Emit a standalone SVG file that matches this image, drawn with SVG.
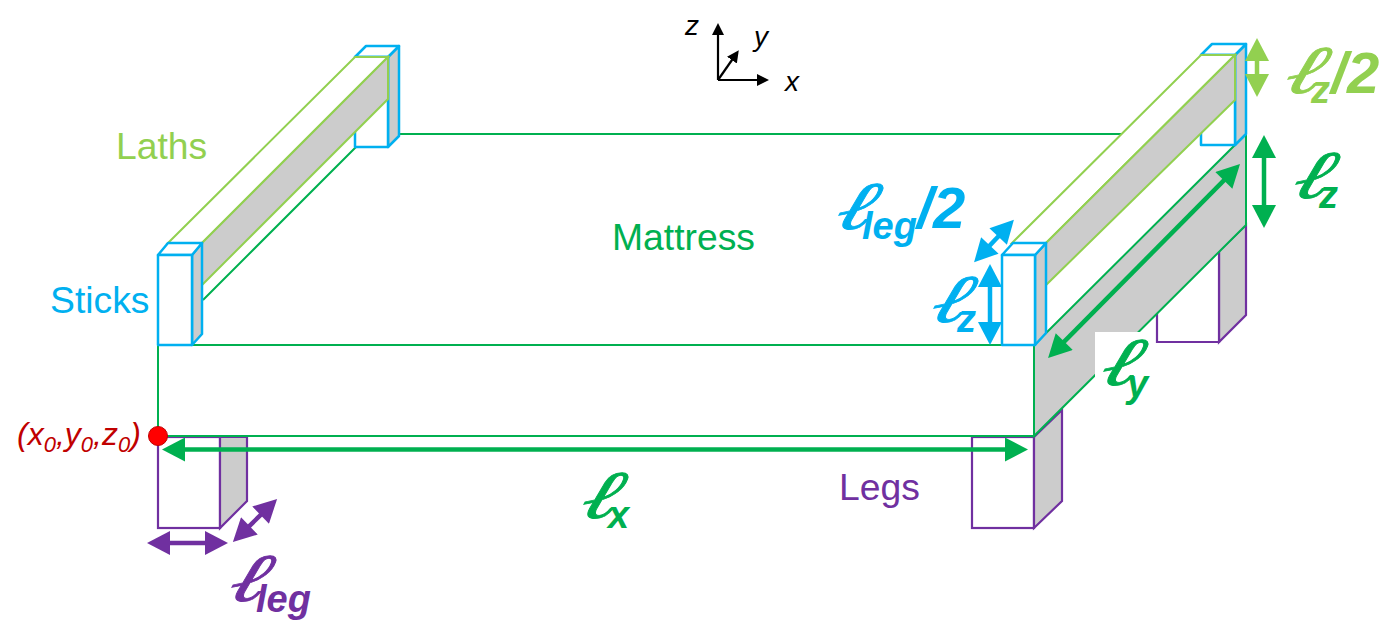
<svg xmlns="http://www.w3.org/2000/svg" width="1395" height="630" viewBox="0 0 1395 630">
<style>
.s{font-family:"Liberation Sans",Arial,sans-serif}
.lab{font-size:37.300px}
.sym{font-family:"Liberation Serif","DejaVu Serif",serif;font-style:italic;font-weight:normal;font-size:68px;stroke-width:.8px}
.it{font-family:"Liberation Sans",Arial,sans-serif;font-style:italic;font-weight:bold;font-size:38px}
.fr{font-family:"Liberation Sans",Arial,sans-serif;font-style:italic;font-weight:bold;font-size:58px}
.ax{font-family:"Liberation Sans",Arial,sans-serif;font-style:italic;font-size:28px;fill:#000}
.cg{fill:#00b050;stroke:#00b050}
.cl{fill:#92d050;stroke:#92d050}
.cb{fill:#00b0f0;stroke:#00b0f0}
.cp{fill:#7030a0;stroke:#7030a0}
.tg{fill:#00b050}
.tl{fill:#92d050}
.tb{fill:#00b0f0}
.tp{fill:#7030a0}
.gray{fill:#cccccc}
.wh{fill:#fff}
.m{stroke:#00b050;stroke-width:2;fill:none}
.mf{stroke:#00b050;stroke-width:2}
.lf{stroke:#92d050;stroke-width:2}
.t{stroke:#00b0f0;stroke-width:2.500;stroke-linejoin:round}
.g{stroke:#7030a0;stroke-width:2.200}
.ag{stroke:#00b050;stroke-width:4.500;fill:none;marker-start:url(#hg);marker-end:url(#hg)}
.al{stroke:#92d050;stroke-width:4.500;fill:none;marker-start:url(#hl);marker-end:url(#hl)}
.ab{stroke:#00b0f0;stroke-width:4.500;fill:none;marker-start:url(#hb);marker-end:url(#hb)}
.ap{stroke:#7030a0;stroke-width:4.500;fill:none;marker-start:url(#hp);marker-end:url(#hp)}
.ak{stroke:#000;stroke-width:2.200;fill:none;marker-end:url(#hk)}
</style>
<defs>
<marker id="hg" markerUnits="userSpaceOnUse" markerWidth="24" markerHeight="24" viewBox="0 0 23 24" refX="17" refY="12" orient="auto-start-reverse"><path d="M0 0L23 12L0 24Z" fill="#00b050"/></marker>
<marker id="hl" markerUnits="userSpaceOnUse" markerWidth="24" markerHeight="24" viewBox="0 0 23 24" refX="17" refY="12" orient="auto-start-reverse"><path d="M0 0L23 12L0 24Z" fill="#92d050"/></marker>
<marker id="hb" markerUnits="userSpaceOnUse" markerWidth="24" markerHeight="24" viewBox="0 0 23 24" refX="17" refY="12" orient="auto-start-reverse"><path d="M0 0L23 12L0 24Z" fill="#00b0f0"/></marker>
<marker id="hp" markerUnits="userSpaceOnUse" markerWidth="24" markerHeight="24" viewBox="0 0 23 24" refX="17" refY="12" orient="auto-start-reverse"><path d="M0 0L23 12L0 24Z" fill="#7030a0"/></marker>
<marker id="hk" markerUnits="userSpaceOnUse" markerWidth="12" markerHeight="12" viewBox="0 0 12 12" refX="8" refY="6" orient="auto"><path d="M0 0L12 6L0 12Z" fill="#000"/></marker>
</defs>
<rect width="1395" height="630" fill="#fff"/>

<g id="leg-back-right">
<path class="g gray" d="M1219 251L1246 225V315L1219 342Z"/>
<path class="g" fill="#fff" d="M1157 313V342H1219V251"/>
</g>
<g id="leg-front-left">
<rect class="g wh" x="158" y="437" width="62" height="91"/>
<path class="g gray" d="M220 437H247V501L220 528Z"/>
</g>
<g id="leg-front-right">
<rect class="g wh" x="972" y="437" width="62" height="91"/>
<path class="g gray" d="M1034 437L1062 410V501L1034 528Z"/>
</g>

<g id="mattress">
<rect class="mf wh" x="158" y="345" width="876" height="91"/>
<path class="mf gray" d="M1034 345L1246 134V225L1034 436Z"/>
<path class="m" d="M203 300L356 147M399 134H1122"/>
</g>

<g id="stick-back-left">
<path class="t gray" d="M388 57L399 46V136L388 147Z"/>
<path class="t wh" d="M355 57L366 46H399L388 57Z"/>
<rect class="t wh" x="355" y="57" width="33" height="90"/>
</g>
<g id="stick-back-right">
<path class="t gray" d="M1235 55L1246 44V134L1235 145Z"/>
<path class="t wh" d="M1201 55L1212 44H1246L1235 55Z"/>
<rect class="t wh" x="1201" y="55" width="34" height="90"/>
</g>
<g id="lath-left">
<path class="lf wh" d="M168 243L355 57H388L202 243Z"/>
<path class="lf gray" d="M202 243L388 57V99L202 285Z"/>
</g>
<g id="lath-right">
<path class="lf wh" d="M1012 243L1201 55H1235L1046 243Z"/>
<path class="lf gray" d="M1046 243L1235 55V100L1046 285Z"/>
</g>
<g id="stick-front-left">
<path class="t gray" d="M192 255L202 243V334L192 345Z"/>
<path class="t wh" d="M158 255L168 243H202L192 255Z"/>
<rect class="t wh" x="158" y="255" width="34" height="90"/>
</g>
<g id="stick-front-right">
<path class="t gray" d="M1035 255L1046 243V333L1035 345Z"/>
<path class="t wh" d="M1002 255L1013 243H1046L1035 255Z"/>
<rect class="t wh" x="1002" y="255" width="33" height="90"/>
</g>

<rect id="ly-backing" x="1095" y="332" width="60" height="75" fill="#fff"/>

<g id="connectors">
<line class="ag" x1="168" y1="449.500" x2="1022" y2="449.500"/>
<line class="ag" x1="1235.800" y1="168.300" x2="1052.300" y2="353.700"/>
<line class="ag" x1="1264" y1="141" x2="1264" y2="222"/>
<line class="al" x1="1257" y1="44" x2="1257" y2="91"/>
<line class="ab" x1="990" y1="270" x2="990" y2="339"/>
<line class="ab" x1="1009.800" y1="224.200" x2="978.200" y2="257.800"/>
<line class="ap" x1="153" y1="543" x2="222" y2="543"/>
<line class="ap" x1="272.800" y1="503.200" x2="237.200" y2="537.800"/>
<line class="ak" x1="718" y1="80" x2="718" y2="27"/>
<line class="ak" x1="718" y1="80" x2="765" y2="80"/>
<line class="ak" x1="718" y1="80" x2="736.500" y2="53.500"/>
</g>

<g id="origin">
<circle cx="158" cy="436" r="9.500" fill="#ff0000" stroke="#c00000" stroke-width="1"/>
<text class="s" x="17" y="445" font-size="32" font-style="italic" fill="#c00000">(x<tspan font-size="22" dy="7">0</tspan><tspan dy="-7">,y</tspan><tspan font-size="22" dy="7">0</tspan><tspan dy="-7">,z</tspan><tspan font-size="22" dy="7">0</tspan><tspan dy="-7">)</tspan></text>
</g>

<g id="labels">
<text class="s lab" x="116" y="159" fill="#92d050">Laths</text>
<text class="s lab" x="50" y="313" fill="#00b0f0">Sticks</text>
<text class="s lab" x="612" y="250" fill="#00b050">Mattress</text>
<text class="s lab" x="839" y="500" fill="#7030a0">Legs</text>
<text class="ax" x="685" y="35">z</text>
<text class="ax" x="754" y="46">y</text>
<text class="ax" x="785" y="91">x</text>

<text class="sym cg" transform="translate(577,518) skewX(-20) scale(1.3,1)">ℓ</text>
<text class="it tg" x="608" y="528">x</text>
<text class="sym cg" transform="translate(1097,385) skewX(-20) scale(1.3,1)">ℓ</text>
<text class="it tg" x="1127" y="397">y</text>
<text class="sym cg" transform="translate(1289,198) skewX(-20) scale(1.3,1)">ℓ</text>
<text class="it tg" x="1319" y="208">z</text>
<text class="sym cl" transform="translate(1281,93) skewX(-20) scale(1.3,1)">ℓ</text>
<text class="it tl" x="1311" y="103">z</text>
<text class="fr tl" x="1331" y="93">/2</text>
<text class="sym cb" transform="translate(927,322) skewX(-20) scale(1.3,1)">ℓ</text>
<text class="it tb" x="957" y="332">z</text>
<text class="sym cb" transform="translate(832,229) skewX(-20) scale(1.3,1)">ℓ</text>
<text class="it tb" x="862" y="239">leg</text>
<text class="fr tb" x="917" y="228">/2</text>
<text class="sym cp" transform="translate(225,601) skewX(-20) scale(1.3,1)">ℓ</text>
<text class="it tp" x="256" y="612">leg</text>
</g>
</svg>
